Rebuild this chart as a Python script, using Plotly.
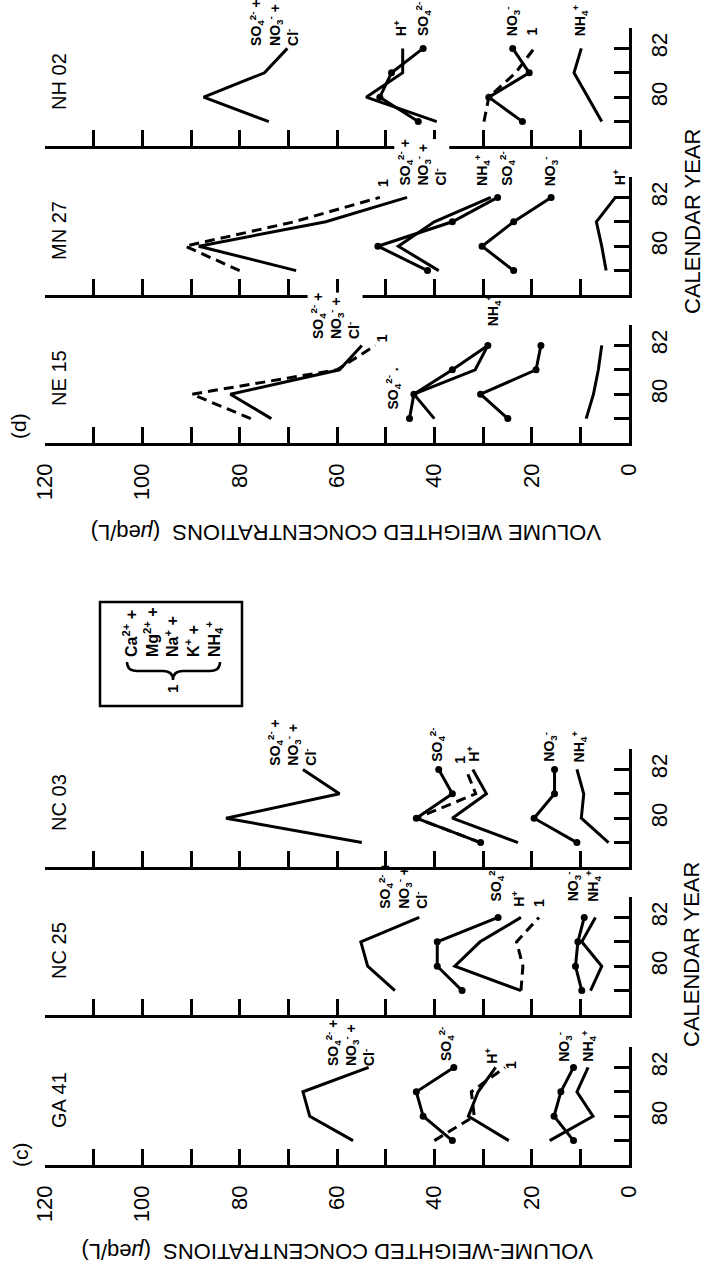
import plotly.graph_objects as go

W, H = 707, 1273

# ---------------- data ----------------
years = [79, 80, 81, 82]
conc_ticks = list(range(0, 121, 10))
conc_tick_text = [str(v) if v % 20 == 0 else "" for v in conc_ticks]
year_ticks = [79, 80, 81, 82]
year_tick_text = ["", "80", "", "82"]

# (d) NE 15
ne15_sum = [73.5, 81.9, 59.5, 54.9]
ne15_one = [77.7, 89.8, 60.0, 52.1]
ne15_so4 = [45.1, 44.2, 36.3, 29.0]
ne15_nh4 = [40.0, 44.2, 31.6, 29.0]
ne15_no3 = [24.9, 30.5, 19.1, 18.1]
ne15_h = [8.8, 7.3, 6.3, 5.6]

# (d) MN 27
mn27_sum = [68.4, 88.4, 62.3, 45.6]
mn27_one = [80.0, 91.2, 68.8, 51.2]
mn27_so4 = [41.4, 51.6, 36.3, 27.0]
mn27_nh4 = [39.1, 47.4, 40.0, 28.4]
mn27_no3 = [23.7, 30.2, 23.7, 16.0]
mn27_h = [4.7, 5.6, 6.7, 2.8]

# (d) NH 02
nh02_sum = [74.0, 87.4, 74.9, 70.2]
nh02_so4 = [43.3, 51.2, 48.8, 42.3]
nh02_h = [39.5, 54.0, 46.5, 46.5]
nh02_no3 = [21.9, 28.8, 20.5, 23.9]
nh02_one = [29.8, 28.8, 23.3, 19.5]
nh02_nh4 = [5.6, 8.4, 11.3, 9.8]

# (c) GA 41
ga41_sum = [56.7, 65.6, 67.0, 53.5]
ga41_so4 = [36.3, 42.3, 43.7, 36.0]
ga41_h = [24.7, 33.0, 31.0, 27.4]
ga41_one = [40.0, 31.8, 32.4, 25.5]
ga41_no3 = [11.4, 15.4, 14.0, 11.4]
ga41_nh4 = [16.3, 7.4, 10.7, 8.4]

# (c) NC 25
nc25_sum = [48.1, 53.7, 55.1, 43.1]
nc25_so4 = [34.3, 39.4, 39.4, 26.9]
nc25_h = [22.2, 35.8, 30.6, 22.2]
nc25_one = [22.2, 21.8, 23.1, 18.5]
nc25_no3 = [9.7, 11.0, 10.5, 9.2]
nc25_nh4 = [7.9, 5.6, 9.7, 6.9]

# (c) NC 03
nc03_sum = [54.9, 82.8, 59.5, 67.0]
nc03_so4 = [30.5, 43.7, 36.3, 39.1]
nc03_one = [30.5, 43.7, 31.5, 33.5]
nc03_h = [22.8, 36.3, 29.3, 32.1]
nc03_no3 = [10.7, 19.5, 15.3, 15.3]
nc03_nh4 = [4.2, 9.8, 9.3, 10.7]

SUM_TXT = "SO<sub>4</sub><sup>2-</sup> +<br>NO<sub>3</sub><sup>-</sup> +<br>Cl<sup>-</sup>"
SO4_TXT = "SO<sub>4</sub><sup>2-</sup>"
NO3_TXT = "NO<sub>3</sub><sup>-</sup>"
NH4_TXT = "NH<sub>4</sub><sup>+</sup>"
H_TXT = "H<sup>+</sup>"
ONE_TXT = "1"

# panel: title, axis pixel row, series (values, dashed, markers), labels (text, conc, year-bottom, bg)
panels = [
    ("NH 02", 146,
     [(nh02_sum, False, False), (nh02_so4, False, True), (nh02_h, False, False),
      (nh02_no3, False, True), (nh02_one, True, False), (nh02_nh4, False, False)],
     [(SUM_TXT, 73, 82.05, False), (H_TXT, 47, 82.47, False), (SO4_TXT, 42.3, 82.47, False),
      (NO3_TXT, 24, 82.47, False), (ONE_TXT, 20, 82.47, False), (NH4_TXT, 10, 82.47, False)]),
    ("MN 27", 295,
     [(mn27_sum, False, False), (mn27_one, True, False), (mn27_so4, False, True),
      (mn27_nh4, False, False), (mn27_no3, False, True), (mn27_h, False, False)],
     [(ONE_TXT, 50.7, 82.4, False), (SUM_TXT, 42.6, 82.43, True), (NH4_TXT, 30.2, 82.43, False),
      (SO4_TXT, 25.1, 82.43, False), (NO3_TXT, 16.3, 82.4, False), (H_TXT, 1.9, 82.45, False)]),
    ("NE 15", 443,
     [(ne15_sum, False, False), (ne15_one, True, False), (ne15_so4, False, True),
      (ne15_nh4, False, False), (ne15_no3, False, True), (ne15_h, False, False)],
     [(SUM_TXT, 60.5, 82.2, True), (ONE_TXT, 50.7, 82.1, False), (NH4_TXT, 27.9, 82.75, False),
      (NO3_TXT, 17.7, 82.9, False), (H_TXT, 5.1, 82.9, False), (SO4_TXT + " .", 48.4, 79.35, False)]),
    ("NC 03", 867,
     [(nc03_sum, False, False), (nc03_so4, False, True), (nc03_one, True, False),
      (nc03_h, False, False), (nc03_no3, False, True), (nc03_nh4, False, False)],
     [(SUM_TXT, 69.3, 82.1, False), (SO4_TXT, 39.5, 82.26, False), (ONE_TXT, 34.9, 82.2, False),
      (H_TXT, 32.1, 82.26, False), (NO3_TXT, 16.3, 82.26, False), (NH4_TXT, 10.2, 82.26, False)]),
    ("NC 25", 1015,
     [(nc25_sum, False, False), (nc25_so4, False, True), (nc25_h, False, False),
      (nc25_one, True, False), (nc25_no3, False, True), (nc25_nh4, False, False)],
     [(SUM_TXT, 46.5, 82.3, False), (SO4_TXT, 27.4, 82.6, False), (H_TXT, 22.8, 82.4, False),
      (ONE_TXT, 18.6, 82.4, False), (NO3_TXT, 11.6, 82.6, False), (NH4_TXT, 7.4, 82.6, False)]),
    ("GA 41", 1165,
     [(ga41_sum, False, False), (ga41_so4, False, True), (ga41_h, False, False),
      (ga41_one, True, False), (ga41_no3, False, True), (ga41_nh4, False, False)],
     [(SUM_TXT, 57.2, 82.0, False), (SO4_TXT, 37.7, 82.2, False), (H_TXT, 28.4, 82.1, False),
      (ONE_TXT, 24.2, 81.9, False), (NO3_TXT, 13.5, 82.2, False), (NH4_TXT, 8.4, 82.2, False)]),
]
label_panels = {"NE 15", "GA 41"}

X0, X1 = 45, 629          # pixel span of the concentration axis (120 -> 0)
YEAR_MIN, YEAR_MAX = 78, 82.85
PX_PER_YEAR = 24.4

FONT = "Liberation Sans, Arial, sans-serif"
fig = go.Figure()
annotations = []
shapes = []

for i, (title, row, series, labels) in enumerate(panels, start=1):
    xa = "x" if i == 1 else f"x{i}"
    ya = "y" if i == 1 else f"y{i}"
    for vals, dashed, markers in series:
        fig.add_trace(go.Scatter(
            x=vals, y=years, xaxis=xa, yaxis=ya,
            mode="lines+markers" if markers else "lines",
            line=dict(color="black", width=3, dash="10px,6px" if dashed else "solid"),
            marker=dict(color="black", size=7),
            showlegend=False, hoverinfo="skip", cliponaxis=False,
        ))
    y_bot = 1 - row / H
    y_top = 1 - (row - (YEAR_MAX - YEAR_MIN) * PX_PER_YEAR) / H
    show_lbl = title in label_panels
    fig.update_layout(**{
        ("xaxis" if i == 1 else f"xaxis{i}"): dict(
            domain=[X0 / W, X1 / W], range=[120, 0], anchor=ya,
            showline=True, linecolor="black", linewidth=2.5,
            ticks="inside", ticklen=16, tickwidth=2.5, tickcolor="black",
            tickvals=conc_ticks, ticktext=conc_tick_text if show_lbl else [""] * len(conc_ticks),
            tickangle=-90, ticklabelstandoff=9, automargin=False,
            tickfont=dict(size=22, color="black", family=FONT),
            showgrid=False, zeroline=False, fixedrange=True,
        ),
        ("yaxis" if i == 1 else f"yaxis{i}"): dict(
            domain=[y_bot, y_top], range=[YEAR_MIN, YEAR_MAX], anchor=xa, side="right",
            showline=True, linecolor="black", linewidth=2.5,
            ticks="inside", ticklen=15, tickwidth=2.5, tickcolor="black",
            tickvals=year_ticks, ticktext=year_tick_text,
            tickangle=-90, ticklabelstandoff=9, automargin=False,
            tickfont=dict(size=22, color="black", family=FONT),
            showgrid=False, zeroline=False, fixedrange=True,
        ),
    })
    annotations.append(dict(
        text=title, x=117, y=80.65, xref=xa, yref=ya, showarrow=False,
        textangle=-90, font=dict(size=20, color="black", family=FONT),
        xanchor="center", yanchor="middle",
    ))
    for txt, cx, yb, bg in labels:
        annotations.append(dict(
            text=txt, x=cx, y=yb, xref=xa, yref=ya, showarrow=False,
            textangle=-90, align="left",
            font=dict(size=14, color="black", family=FONT, weight="bold"),
            xanchor="center", yanchor="bottom",
            bgcolor="white" if bg else None, borderpad=0,
        ))

def px(xp, yp):
    return xp / W, 1 - yp / H

# group labels, axis titles
for txt, xp, yp, ang, size in [
    ("(d)", 18, 426, -90, 21),
    ("(c)", 20, 1155, -90, 21),
    ("CALENDAR YEAR", 692, 222, -90, 22),
    ("CALENDAR YEAR", 692, 955, -90, 22),
    ("VOLUME WEIGHTED CONCENTRATIONS  (<i>μ</i>eq/L)", 346, 533, 180, 22),
    ("VOLUME-WEIGHTED CONCENTRATIONS  (<i>μ</i>eq/L)", 337, 1252, 180, 22),
]:
    xx, yy = px(xp, yp)
    annotations.append(dict(
        text=txt, x=xx, y=yy, xref="paper", yref="paper", showarrow=False,
        textangle=ang, font=dict(size=size, color="black", family=FONT),
        xanchor="center", yanchor="middle",
    ))

# legend box "1 = {Ca2+ + Mg2+ + Na+ + K+ + NH4+}"
bx0, by0 = px(100, 602)
bx1, by1 = px(242, 706)
shapes.append(dict(type="rect", xref="paper", yref="paper", x0=bx0, y0=by1, x1=bx1, y1=by0,
                   line=dict(color="black", width=2.5), fillcolor="white", layer="below"))
brace_pts = [(127, 662), (127, 671), (137, 671), (163, 671), (173, 671), (173, 680),
             (173, 671), (183, 671), (210, 671), (220, 671), (220, 662)]
b = [px(*p) for p in brace_pts]
path = (f"M {b[0][0]},{b[0][1]} Q {b[1][0]},{b[1][1]} {b[2][0]},{b[2][1]} "
        f"L {b[3][0]},{b[3][1]} Q {b[4][0]},{b[4][1]} {b[5][0]},{b[5][1]} "
        f"Q {b[6][0]},{b[6][1]} {b[7][0]},{b[7][1]} "
        f"L {b[8][0]},{b[8][1]} Q {b[9][0]},{b[9][1]} {b[10][0]},{b[10][1]}")
shapes.append(dict(type="path", xref="paper", yref="paper", path=path,
                   line=dict(color="black", width=2.5)))
lx, ly = px(172, 659)
annotations.append(dict(
    text="Ca<sup>2+</sup> +<br>Mg<sup>2+</sup> +<br>Na<sup>+</sup> +<br>K<sup>+</sup> +<br>NH<sub>4</sub><sup>+</sup>",
    x=lx, y=ly, xref="paper", yref="paper", showarrow=False, textangle=-90, align="left",
    font=dict(size=16, color="black", family=FONT, weight="bold"),
    xanchor="center", yanchor="bottom",
))
ox, oy = px(172, 689)
annotations.append(dict(text="1", x=ox, y=oy, xref="paper", yref="paper", showarrow=False,
                        textangle=-90, font=dict(size=15, color="black", family=FONT, weight="bold"),
                        xanchor="center", yanchor="middle"))

fig.update_layout(
    width=W, height=H, margin=dict(l=0, r=0, t=0, b=0, pad=0),
    paper_bgcolor="white", plot_bgcolor="white",
    annotations=annotations, shapes=shapes, showlegend=False,
)
fig.write_html("out.html", config={"displayModeBar": False},
               post_script="document.body.style.margin='0';document.body.style.overflow='hidden';")
